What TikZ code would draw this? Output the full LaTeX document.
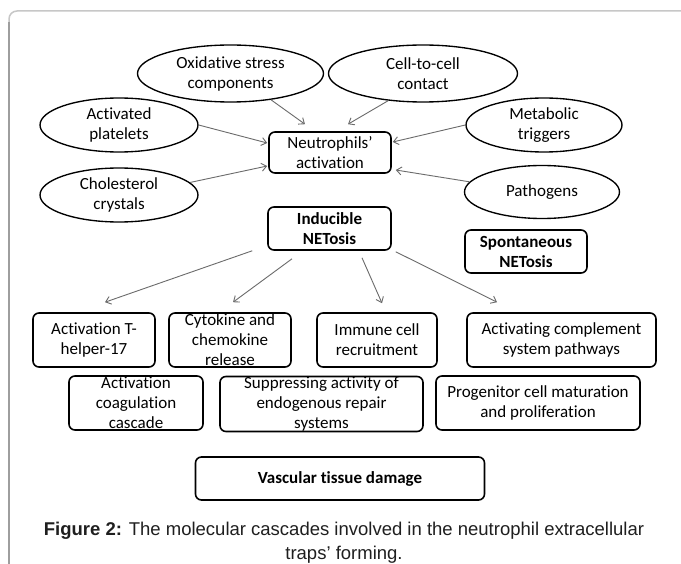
\documentclass[tikz,border=0pt]{standalone}
\usepackage{fontspec}
\setmainfont{Carlito}[Ligatures=NoCommon]
\newfontfamily\capfont{Liberation Sans}
\usetikzlibrary{arrows.meta,shapes.geometric}
\begin{document}
\begin{tikzpicture}[x=1pt,y=-1pt,
  txt/.style={font=\fontsize{17}{20}\selectfont, align=center},
  oval/.style={txt, ellipse, draw, line width=1.35pt, inner sep=0pt},
  rbox/.style={txt, draw, rounded corners=6pt, line width=1.6pt, inner xsep=2pt, inner ysep=-3pt},
  bbox/.style={rbox, font=\fontsize{17}{20}\selectfont\bfseries},
  arr/.style={draw=black!58, line width=0.9pt, -{Straight Barb[length=5pt,width=8pt]}},
]
\useasboundingbox (0,0) rectangle (681,564);
\fill[white] (0,0) rectangle (681,564);
% frame
\draw[black!22, line width=1.5pt, rounded corners=8pt] (9,570) -- (9,11) -- (690,11);
\draw[black!38, line width=1.2pt] (9,570) -- (9,22);

% triggers
\node[oval, minimum width=186pt, minimum height=57pt] (ox) at (230.5,73.5) {Oxidative stress\\components};
\node[oval, minimum width=189pt, minimum height=57pt] (cc) at (423,73.5) {Cell-to-cell\\contact};
\node[oval, minimum width=158pt, minimum height=54pt] (ap) at (119,125) {Activated\\platelets};
\node[oval, minimum width=156pt, minimum height=54pt] (mt) at (544,125) {Metabolic\\triggers};
\node[oval, minimum width=158pt, minimum height=54pt] (cho) at (119,195) {Cholesterol\\crystals};
\node[oval, minimum width=155pt, minimum height=53pt] (pa) at (542,192) {Pathogens};

% central boxes
\node[rbox, minimum width=122pt, minimum height=41pt] (nb) at (330,152.5) {Neutrophils’\\activation};
\node[bbox, minimum width=123pt, minimum height=43pt] (ib) at (329.5,228.5) {Inducible\\NETosis};
\node[bbox, minimum width=122pt, minimum height=43pt] (sp) at (526,251.5) {Spontaneous\\NETosis};

% effects row 1
\node[rbox, minimum width=122pt, minimum height=54pt] (th) at (94,340) {Activation T-\\helper-17};
\node[rbox, minimum width=122pt, minimum height=54pt] (cy) at (230,340) {Cytokine and\\chemokine\\release};
\node[rbox, minimum width=120pt, minimum height=54pt] (im) at (377,340) {Immune cell\\recruitment};
\node[rbox, minimum width=189pt, minimum height=54pt] (co) at (561.5,340) {Activating complement\\system pathways};

% effects row 2
\node[rbox, minimum width=134pt, minimum height=54pt] (cg) at (136,403) {Activation\\coagulation\\cascade};
\node[rbox, minimum width=203pt, minimum height=55pt] (su) at (321.5,404) {Suppressing activity of\\endogenous repair\\systems};
\node[rbox, minimum width=204pt, minimum height=54pt] (pr) at (538,403) {Progenitor cell maturation\\and proliferation};

% outcome
\node[bbox, minimum width=289pt, minimum height=43pt] (vd) at (340,478.5) {Vascular tissue damage};

% caption
\node[font=\capfont\fontsize{18.5}{24}\selectfont, align=center, text=black!88] (cap) at (344,543)
  {\textbf{Figure 2:} The molecular cascades involved in the neutrophil extracellular\\traps’ forming.};

% arrows into activation
\draw[arr] (ox.-33) -- ([xshift=-25pt,yshift=7pt]nb.north);
\draw[arr] (cc.-142) -- ([xshift=18pt,yshift=7pt]nb.north);
\draw[arr] (ap.east) -- ([xshift=-1pt,yshift=9.5pt]nb.west);
\draw[arr] (cho.10) -- ([xshift=-1pt,yshift=-13.5pt]nb.west);
\draw[arr] (mt.west) -- ([xshift=1pt,yshift=10.5pt]nb.east);
\draw[arr] (pa.172) -- ([xshift=4pt,yshift=-17.5pt]nb.east);

% arrows from inducible NETosis
\draw[arr] ([xshift=-15pt]ib.south west) -- ([xshift=11pt,yshift=10pt]th.north);
\draw[arr] ([xshift=-37.5pt,yshift=-8pt]ib.south) -- ([xshift=3pt,yshift=10pt]cy.north);
\draw[arr] ([xshift=32.5pt,yshift=-7pt]ib.south) -- ([xshift=5pt,yshift=9pt]im.north);
\draw[arr] ([xshift=4pt,yshift=-1pt]ib.south east) -- ([xshift=-64.5pt,yshift=10pt]co.north);
\end{tikzpicture}
\end{document}
